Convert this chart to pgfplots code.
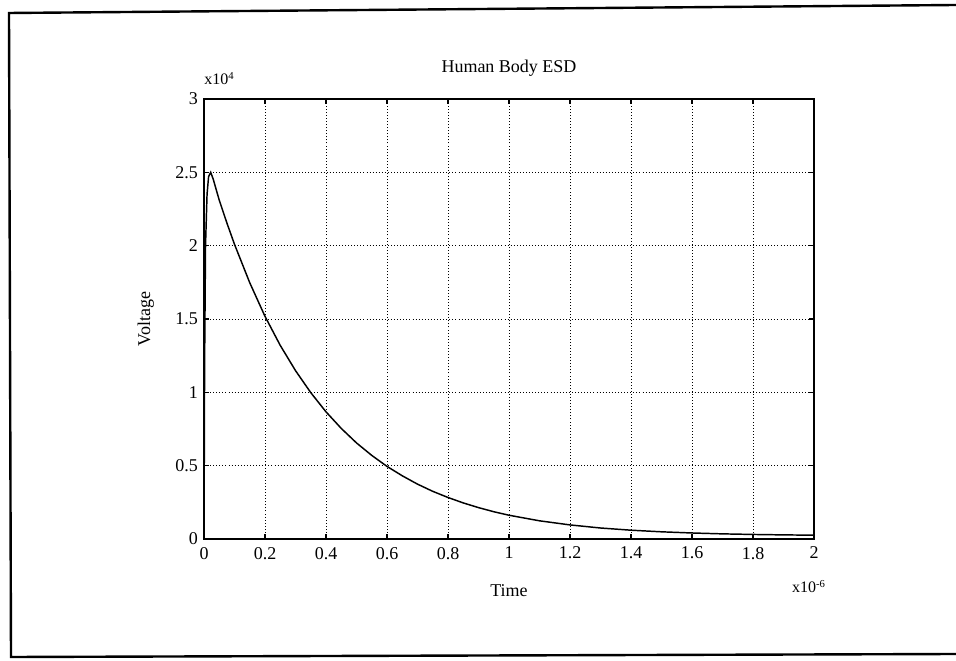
\documentclass[border=0pt]{standalone}
\usepackage{pgfplots}
\pgfplotsset{compat=1.18}
\usepackage{fontspec}
\setmainfont{Liberation Serif}

\begin{document}
\begin{tikzpicture}
\useasboundingbox (0,0) rectangle (717pt,495pt);
\begin{axis}[
    at={(153pt,90.75pt)}, anchor=south west,
    scale only axis, width=457.5pt, height=330pt,
    xmin=0, xmax=2, ymin=0, ymax=3,
    xtick={0,0.2,0.4,0.6,0.8,1,1.2,1.4,1.6,1.8,2},
    xticklabels={0,0.2,0.4,0.6,0.8,1,1.2,1.4,1.6,1.8,2},
    ytick={0,0.5,1,1.5,2,2.5,3},
    yticklabels={0,0.5,1,1.5,2,2.5,3},
    tick align=inside, major tick length=4pt,
    tick style={black, line width=0.8pt},
    axis line style={line width=1.4pt},
    grid=major,
    major grid style={black, line width=0.5pt, dash pattern=on 0.7pt off 1.6pt},
    font=\fontsize{13.5}{16}\selectfont,
    /pgf/number format/assume math mode=true,
    xticklabel style={yshift=-2.5pt},
    yticklabel style={xshift=-1pt},
    title={Human Body ESD},
    title style={at={(0.5,1)}, anchor=base, yshift=13.5pt, inner sep=0pt},
    xlabel={Time},
    xlabel style={at={(0.5,0)}, anchor=base, yshift=-43pt, inner sep=0pt},
    clip=false,
]
\addplot[black, line width=1.1pt] coordinates {
    (0,0) (0.002,1.2) (0.005,2.0) (0.01,2.35) (0.015,2.47) (0.022,2.50)
    (0.03,2.455) (0.05,2.31) (0.075,2.155) (0.1,2.009) (0.15,1.747)
    (0.2,1.518) (0.25,1.320) (0.3,1.148) (0.35,0.998) (0.4,0.867)
    (0.45,0.754) (0.5,0.655) (0.55,0.570) (0.6,0.495) (0.65,0.431)
    (0.7,0.374) (0.75,0.325) (0.8,0.283) (0.85,0.246) (0.9,0.214)
    (0.95,0.186) (1.0,0.162) (1.1,0.124) (1.2,0.096) (1.3,0.075)
    (1.4,0.060) (1.5,0.049) (1.6,0.041) (1.7,0.035) (1.8,0.031)
    (1.9,0.028) (2.0,0.026)
};
\node[anchor=base, rotate=90, inner sep=0pt]
    at ([xshift=-40.5pt]rel axis cs:0,0.5) {Voltage};
\node[anchor=base west, inner sep=0pt, font=\fontsize{12}{14}\selectfont]
    at ([yshift=10.5pt]rel axis cs:0,1) {x10\textsuperscript{4}};
\node[anchor=base east, inner sep=0pt, font=\fontsize{12}{14}\selectfont]
    at ([xshift=9pt, yshift=-40.5pt]rel axis cs:1,0) {x10\textsuperscript{-6}};
\end{axis}
% scanned page frame
\draw[line width=1.8pt] (717pt,491.25pt) -- (6.75pt,485.25pt) -- (8.25pt,2.25pt) -- (717pt,4.5pt);
\end{tikzpicture}
\end{document}
